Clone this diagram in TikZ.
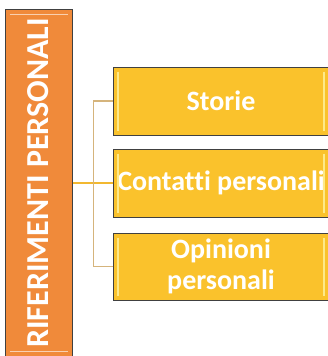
\documentclass[tikz,border=0pt]{standalone}
\usepackage{fontspec}
\setmainfont[Ligatures={NoCommon}]{Carlito}
\definecolor{rifOrange}{HTML}{F08A3A}
\definecolor{voceYellow}{HTML}{FAC22C}
\definecolor{trunkGold}{HTML}{F2B830}
\definecolor{branchTan}{HTML}{D5B47C}
\definecolor{rimGray}{HTML}{404040}
\definecolor{shineYellow}{HTML}{FDE98A}
\tikzset{
  rifbox/.style={draw=rimGray,line width=1pt,fill=rifOrange,rotate=90,
    minimum width=348pt,minimum height=67pt,inner sep=0pt,text=white,
    font=\bfseries\fontsize{32}{34}\selectfont},
  vocebox/.style={draw=rimGray,line width=1pt,fill=voceYellow,
    minimum width=215pt,minimum height=68pt,inner sep=0pt,text=white,
    align=center,font=\bfseries\fontsize{28}{31}\selectfont},
  trunk/.style={trunkGold,line width=1.5pt},
  branch/.style={branchTan,line width=1.5pt},
  shine/.style={white,opacity=0.6,line width=1.5pt},
  glint/.style={shineYellow,line width=1.5pt}
}
\begin{document}
\begin{tikzpicture}[x=1pt,y=-1pt]
  \useasboundingbox (0,0) rectangle (328,356);
  % Main category (vertical)
  \node[rifbox] (rif) at (38.5,183) {RIFERIMENTI PERSONALI};
  \draw[shine] ([xshift=5pt,yshift=-6pt]rif.north east) -- ([xshift=-5pt,yshift=-6pt]rif.south east);
  \draw[shine] ([xshift=5pt,yshift=6pt]rif.north west) -- ([xshift=-5pt,yshift=6pt]rif.south west);
  % Sub items
  \node[vocebox] (storie) at (221,101) {Storie};
  \node[vocebox] (contatti) at (221,183) {Contatti personali};
  \node[vocebox,minimum height=67pt] (opinioni) at (221,266.5) {Opinioni\\personali};
  % Glass highlights
  \foreach \v in {storie,contatti,opinioni} {
    \draw[glint] ([xshift=5pt,yshift=-5pt]\v.north west) -- ([xshift=5pt,yshift=5pt]\v.south west);
    \draw[glint] ([xshift=-5pt,yshift=-5pt]\v.north east) -- ([xshift=-5pt,yshift=5pt]\v.south east);
  }
  % Connectors
  \coordinate (hub) at (93.5,183);
  \draw[trunk] (rif.south) -- (hub);
  \draw[branch] (hub) |- (storie.west);
  \draw[branch] (hub) |- (opinioni.west);
  \draw[trunk] (hub) -- (contatti.west);
\end{tikzpicture}
\end{document}
